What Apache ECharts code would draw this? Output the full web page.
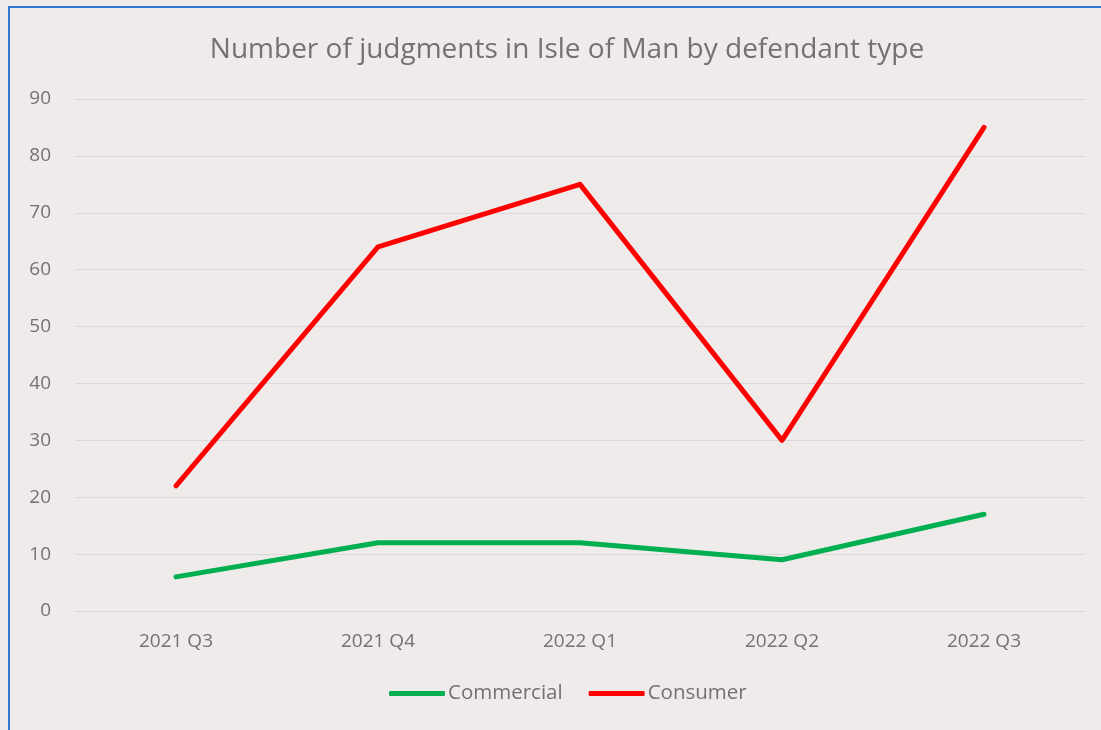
<!DOCTYPE html>
<html>
<head>
<meta charset="utf-8">
<script src="https://cdn.jsdelivr.net/npm/echarts@6/dist/echarts.min.js"></script>
<style>
  html, body { margin: 0; padding: 0; background: #EFEBEA; }
  #frame {
    position: absolute; left: 8px; top: 6px; width: 1110px; height: 740px;
    border: 2px solid #2E7BCF; box-sizing: border-box;
  }
  #chart { position: absolute; left: 0; top: 0; width: 1101px; height: 730px; }
</style>
</head>
<body>
<div id="frame"></div>
<div id="chart"></div>
<script>
const quarters = ['2021 Q3', '2021 Q4', '2022 Q1', '2022 Q2', '2022 Q3'];
const commercial = [6, 12, 12, 9, 17];
const consumer = [22, 64, 75, 30, 85];

const textColor = '#767171';
const fontFamily = '"Open Sans", sans-serif';

const chart = echarts.init(document.getElementById('chart'));
chart.setOption({
  backgroundColor: 'transparent',
  animation: false,
  title: {
    text: 'Number of judgments in Isle of Man by defendant type',
    left: 562,
    textAlign: 'center',
    top: 31,
    textStyle: { color: textColor, fontSize: 28, fontWeight: 'normal', fontFamily: fontFamily }
  },
  grid: { left: 75, right: 16, top: 99, bottom: 119 },
  legend: {
    data: ['Commercial', 'Consumer'],
    bottom: 21,
    left: 384,
    icon: 'roundRect',
    itemWidth: 56,
    itemHeight: 5,
    itemGap: 26,
    textStyle: { color: textColor, fontSize: 20.5, fontFamily: fontFamily, padding: [0, 0, 0, -2] }
  },
  xAxis: {
    type: 'category',
    data: quarters,
    boundaryGap: true,
    axisLine: { show: true, lineStyle: { color: '#D9D9D9', width: 1 } },
    axisTick: { show: false },
    axisLabel: { color: textColor, fontSize: 19, fontFamily: fontFamily, margin: 21 }
  },
  yAxis: {
    type: 'value',
    min: 0,
    max: 90,
    interval: 10,
    axisLine: { show: false },
    axisTick: { show: false },
    splitLine: { lineStyle: { color: '#D9D9D9', width: 1 } },
    axisLabel: { color: textColor, fontSize: 19, fontFamily: fontFamily, margin: 24 }
  },
  series: [
    {
      name: 'Commercial',
      type: 'line',
      data: commercial,
      showSymbol: false,
      itemStyle: { color: '#00B050' },
      lineStyle: { color: '#00B050', width: 5, cap: 'round', join: 'round' }
    },
    {
      name: 'Consumer',
      type: 'line',
      data: consumer,
      showSymbol: false,
      itemStyle: { color: '#FF0000' },
      lineStyle: { color: '#FF0000', width: 5, cap: 'round', join: 'round' }
    }
  ]
});
</script>
</body>
</html>
